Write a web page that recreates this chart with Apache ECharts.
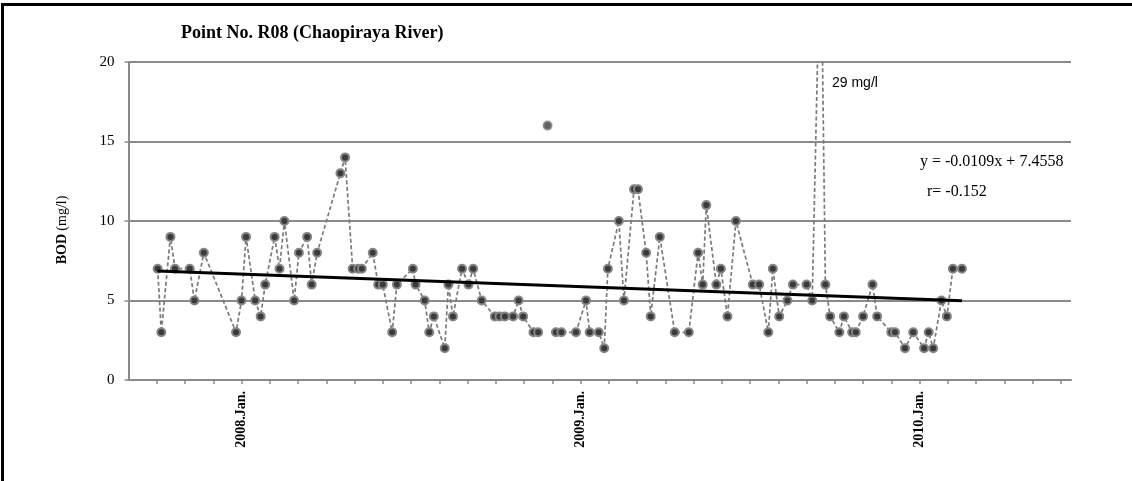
<!DOCTYPE html>
<html>
<head>
<meta charset="utf-8">
<script src="https://cdn.jsdelivr.net/npm/echarts@6/dist/echarts.min.js"></script>
<style>
  html, body { margin: 0; padding: 0; background: #fff; overflow: hidden; }
  #wrap { position: relative; width: 1132px; height: 481px; overflow: hidden; }
  #chart { position: absolute; left: 0; top: 0; width: 1132px; height: 481px; }
  #frame { position: absolute; left: 1px; top: 3px; width: 2000px; height: 2000px;
           border-top: 3px solid #000; border-left: 3px solid #000; pointer-events: none; }
</style>
</head>
<body>
<div id="wrap"><div id="chart"></div><div id="frame"></div></div>
<script>
// ---- data ----
const sampleDates = [
  '2007-10-02','2007-10-06','2007-10-16','2007-10-21','2007-11-06','2007-11-11','2007-11-21','2007-12-26',
  '2008-01-01','2008-01-06','2008-01-16','2008-01-22','2008-01-27','2008-02-06','2008-02-11','2008-02-16',
  '2008-02-26','2008-03-02','2008-03-11','2008-03-16','2008-03-22','2008-04-16','2008-04-21','2008-04-29',
  '2008-05-05','2008-05-09','2008-05-21','2008-05-27','2008-06-01','2008-06-11','2008-06-16','2008-07-03',
  '2008-07-06','2008-07-16','2008-07-21','2008-07-26','2008-08-07','2008-08-11','2008-08-16','2008-08-26',
  '2008-09-02','2008-09-07','2008-09-16','2008-09-30','2008-10-05','2008-10-11','2008-10-20','2008-10-26',
  '2008-10-31','2008-11-11','2008-11-16','2008-11-26','2008-12-05','2008-12-11','2008-12-27',
  '2009-01-07','2009-01-11','2009-01-21','2009-01-27','2009-01-31','2009-02-11','2009-02-16','2009-02-26',
  '2009-03-02','2009-03-11','2009-03-16','2009-03-26','2009-04-11','2009-04-26','2009-05-06','2009-05-11',
  '2009-05-15','2009-05-26','2009-05-31','2009-06-07','2009-06-16','2009-07-04','2009-07-11','2009-07-21',
  '2009-07-26','2009-08-02','2009-08-11','2009-08-17','2009-09-01','2009-09-07','2009-09-16','2009-09-21',
  '2009-09-26','2009-10-06','2009-10-11','2009-10-20','2009-10-24','2009-11-01','2009-11-11','2009-11-16',
  '2009-12-01','2009-12-05','2009-12-16','2009-12-25','2010-01-06','2010-01-11','2010-01-16','2010-01-25',
  '2010-01-31','2010-02-06','2010-02-15'
];
// BOD (mg/l); null = break in the dashed line
const bodValues = [
  7,3,9,7,7,5,8,3,
  5,9,5,4,6,9,7,10,
  5,8,9,6,8,13,14,7,
  7,7,8,6,6,3,6,7,
  6,5,3,4,2,6,4,7,
  6,7,5,4,4,4,4,5,
  4,3,3,null,3,3,3,
  5,3,3,2,7,10,5,12,
  12,8,4,9,3,3,8,6,
  11,6,7,4,10,6,6,3,
  7,4,5,6,6,5,29,6,
  4,3,4,3,3,4,6,4,
  3,3,2,3,2,3,2,5,
  4,7,7
];
// isolated sample (not joined to neighbours)
const isolatedDates = ['2008-11-26'];
const isolatedValues = [16];
// linear trend end points
const trendDates = ['2007-10-02', '2010-02-15'];
const trendValues = [6.85, 4.98];
// axis
const yearLabels = ['2008.Jan.', '2009.Jan.', '2010.Jan.'];
const yTicks = [0, 5, 10, 15, 20];

// months counted from 2008-01-01
function toMonth(s) {
  const p = s.split('-').map(Number);
  const dim = new Date(p[0], p[1], 0).getDate();
  return (p[0] - 2008) * 12 + (p[1] - 1) + (p[2] - 1) / dim;
}
const mainData = sampleDates.map((d, i) => [toMonth(d), bodValues[i] === null ? '-' : bodValues[i]]);
const isoData = isolatedDates.map((d, i) => [toMonth(d), isolatedValues[i]]);
const trendData = trendDates.map((d, i) => [toMonth(d), trendValues[i]]);

const monthTicks = [];
for (let m = -3; m <= 29; m++) monthTicks.push(m);
const labelMonths = yearLabels.map((_, i) => i * 12);

const gray = '#8a8a8a';
const serif = "'Liberation Serif', 'Times New Roman', serif";
const markerStyle = { color: '#3a3a3a', borderColor: '#858585', borderWidth: 2 };

const chart = echarts.init(document.getElementById('chart'), null, { renderer: 'canvas' });
chart.setOption({
  animation: false,
  backgroundColor: '#fff',
  grid: { left: 128.5, right: 61, top: 62, bottom: 101, containLabel: false },
  title: {
    text: 'Point No. R08 (Chaopiraya River)',
    left: 176, top: 19,
    textStyle: { fontFamily: serif, fontWeight: 'bold', fontSize: 18, color: '#000' }
  },
  xAxis: {
    type: 'value', min: -4, max: 29.36,
    splitLine: { show: false },
    axisLine: { show: true, onZero: false, lineStyle: { color: gray, width: 2 } },
    axisTick: { show: true, customValues: monthTicks, length: 4, lineStyle: { color: gray, width: 1.5 } },
    axisLabel: {
      show: true, customValues: labelMonths, rotate: 90, margin: 11,
      fontFamily: serif, fontWeight: 'bold', fontSize: 14, color: '#000',
      formatter: v => yearLabels[Math.round(v / 12)]
    }
  },
  yAxis: {
    type: 'value', min: yTicks[0], max: yTicks[yTicks.length - 1], interval: 5,
    axisLine: { show: true, onZero: false, lineStyle: { color: gray, width: 2 } },
    axisTick: { show: true, length: 4, lineStyle: { color: gray, width: 1.5 } },
    axisLabel: { margin: 14, fontFamily: serif, fontSize: 15, color: '#000' },
    splitLine: { show: true, lineStyle: { color: gray, width: 2 } }
  },
  graphic: [
    { type: 'text', x: 62, y: 230, rotation: Math.PI / 2,
      style: { text: '{b|BOD} {n|(mg/l)}', align: 'center', verticalAlign: 'middle',
        rich: { b: { fontFamily: serif, fontWeight: 'bold', fontSize: 14, fill: '#000' },
                n: { fontFamily: serif, fontSize: 14, fill: '#000' } } } },
    { type: 'text', left: 832, top: 76,
      style: { text: '29 mg/l', fontFamily: "'Liberation Sans', Arial, sans-serif", fontSize: 14, fill: '#000' } },
    { type: 'text', left: 920, top: 154,
      style: { text: 'y = -0.0109x + 7.4558', fontFamily: serif, fontSize: 16, fill: '#000' } },
    { type: 'text', left: 927, top: 184,
      style: { text: 'r= -0.152', fontFamily: serif, fontSize: 16, fill: '#000' } }
  ],
  series: [
    {
      type: 'line', data: mainData, connectNulls: false, clip: true,
      symbol: 'circle', symbolSize: 8, showAllSymbol: true,
      lineStyle: { color: '#7a7a7a', width: 1.7, type: [4, 2.5] },
      itemStyle: markerStyle, z: 3
    },
    {
      type: 'scatter', data: isoData, symbol: 'circle', symbolSize: 8,
      itemStyle: markerStyle, z: 3
    },
    {
      type: 'line', data: trendData, symbol: 'none',
      lineStyle: { color: '#000', width: 3 }, z: 4
    }
  ]
});
</script>
</body>
</html>
